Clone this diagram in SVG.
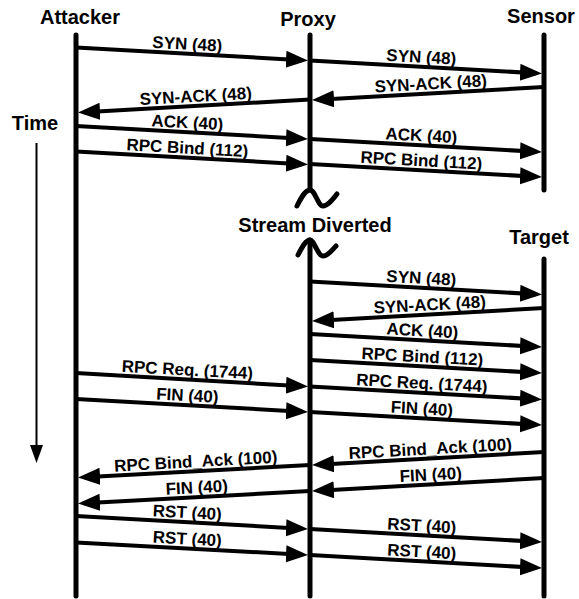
<svg xmlns="http://www.w3.org/2000/svg" width="579" height="599" viewBox="0 0 579 599">
<style>
.life{stroke:#000;stroke-width:5;stroke-linecap:round;fill:none}
.msg{stroke:#000;stroke-width:4;fill:none}
.title{font-family:"Liberation Sans",Arial,Helvetica,sans-serif;font-weight:bold;font-size:20px;fill:#000;text-anchor:middle}
.lbl{font-family:"Liberation Sans",Arial,Helvetica,sans-serif;font-weight:bold;font-size:17px;fill:#000;text-anchor:middle}
</style>
<defs>
<marker id="ah" markerUnits="userSpaceOnUse" markerWidth="24" markerHeight="18" refX="16" refY="8.5" orient="auto">
<path d="M0,0 L22,8.5 L0,17 z" fill="#000"/>
</marker>
</defs>
<rect width="579" height="599" fill="#fff"/>
<g id="attacker">
<text class="title" x="80" y="24">Attacker</text>
<line class="life" x1="76" y1="35" x2="76" y2="596"/>
</g>
<g id="proxy">
<text class="title" x="308" y="26">Proxy</text>
<line class="life" x1="310" y1="35" x2="310" y2="190"/>
<path class="life" d="M297,206 C301,198 305,190 310,190 C315,190 318,206 323,206 C328,206 333,199 337,194"/>
<path class="life" d="M298,255 C302,247 306,240 310,240 C314,240 318,256 323,256 C328,256 332,250 336,246"/>
<line class="life" x1="310" y1="240" x2="310" y2="596"/>
</g>
<g id="sensor">
<text class="title" x="541" y="23">Sensor</text>
<line class="life" x1="544" y1="35" x2="544" y2="190"/>
</g>
<g id="diverted">
<text class="title" x="315" y="232">Stream Diverted</text>
</g>
<g id="target">
<text class="title" x="539" y="244">Target</text>
<line class="life" x1="544" y1="259" x2="544" y2="596"/>
</g>
<g id="time">
<text class="title" x="35" y="130">Time</text>
<line x1="36.5" y1="143" x2="36.5" y2="447" stroke="#000" stroke-width="2"/>
<polygon points="30,445 43,445 36.5,463" fill="#000"/>
</g>
<g id="connectors" marker-end="url(#ah)">
<path class="msg" marker-end="url(#ah)" d="M76 47.5 L302 60.2"/>
<path class="msg" marker-end="url(#ah)" d="M310 99.5 L84 112.2"/>
<path class="msg" marker-end="url(#ah)" d="M76 126 L302 138.7"/>
<path class="msg" marker-end="url(#ah)" d="M76 151.5 L302 164.2"/>
<path class="msg" marker-end="url(#ah)" d="M310 60.5 L536 73.2"/>
<path class="msg" marker-end="url(#ah)" d="M544 87 L318 99.7"/>
<path class="msg" marker-end="url(#ah)" d="M310 139 L536 151.7"/>
<path class="msg" marker-end="url(#ah)" d="M310 164 L536 176.7"/>
<path class="msg" marker-end="url(#ah)" d="M310 281.5 L536 294.2"/>
<path class="msg" marker-end="url(#ah)" d="M544 308 L318 320.7"/>
<path class="msg" marker-end="url(#ah)" d="M310 334 L536 346.7"/>
<path class="msg" marker-end="url(#ah)" d="M310 360 L536 372.7"/>
<path class="msg" marker-end="url(#ah)" d="M310 386.5 L536 399.2"/>
<path class="msg" marker-end="url(#ah)" d="M310 412 L536 424.7"/>
<path class="msg" marker-end="url(#ah)" d="M544 452 L318 464.7"/>
<path class="msg" marker-end="url(#ah)" d="M544 478 L318 490.7"/>
<path class="msg" marker-end="url(#ah)" d="M310 529 L536 541.7"/>
<path class="msg" marker-end="url(#ah)" d="M310 555 L536 567.7"/>
<path class="msg" marker-end="url(#ah)" d="M76 373 L302 386.2"/>
<path class="msg" marker-end="url(#ah)" d="M76 399 L302 411.7"/>
<path class="msg" marker-end="url(#ah)" d="M310 465 L84 477.2"/>
<path class="msg" marker-end="url(#ah)" d="M310 491 L84 503.2"/>
<path class="msg" marker-end="url(#ah)" d="M76 516 L302 528.7"/>
<path class="msg" marker-end="url(#ah)" d="M76 542.5 L302 554.7"/>
</g>
<g id="labels">
<text class="lbl" transform="translate(187,49.7) rotate(3.2)">SYN (48)</text>
<text class="lbl" transform="translate(196,101.9) rotate(-3.2)">SYN-ACK (48)</text>
<text class="lbl" transform="translate(187,128.2) rotate(3.2)">ACK (40)</text>
<text class="lbl" transform="translate(187,153.7) rotate(3.2)">RPC Bind (112)</text>
<text class="lbl" transform="translate(421,62.7) rotate(3.2)">SYN (48)</text>
<text class="lbl" transform="translate(431,89.3) rotate(-3.2)">SYN-ACK (48)</text>
<text class="lbl" transform="translate(421,141.2) rotate(3.2)">ACK (40)</text>
<text class="lbl" transform="translate(421,166.2) rotate(3.2)">RPC Bind (112)</text>
<text class="lbl" transform="translate(421,283.7) rotate(3.2)">SYN (48)</text>
<text class="lbl" transform="translate(430,310.4) rotate(-3.2)">SYN-ACK (48)</text>
<text class="lbl" transform="translate(422,336.3) rotate(3.2)">ACK (40)</text>
<text class="lbl" transform="translate(422,362.3) rotate(3.2)">RPC Bind (112)</text>
<text class="lbl" transform="translate(421.5,388.8) rotate(3.2)">RPC Req. (1744)</text>
<text class="lbl" transform="translate(421.5,414.3) rotate(3.2)">FIN (40)</text>
<text class="lbl" transform="translate(430.5,454.4) rotate(-3.2)">RPC Bind_Ack (100)</text>
<text class="lbl" transform="translate(431,480.3) rotate(-3.2)">FIN (40)</text>
<text class="lbl" transform="translate(421.5,531.3) rotate(3.2)">RST (40)</text>
<text class="lbl" transform="translate(421.5,557.3) rotate(3.2)">RST (40)</text>
<text class="lbl" transform="translate(187,375.5) rotate(3.2)">RPC Req. (1744)</text>
<text class="lbl" transform="translate(187,401.2) rotate(3.2)">FIN (40)</text>
<text class="lbl" transform="translate(196,467.1) rotate(-3.2)">RPC Bind_Ack (100)</text>
<text class="lbl" transform="translate(197,493.1) rotate(-3.2)">FIN (40)</text>
<text class="lbl" transform="translate(187,518.2) rotate(3.2)">RST (40)</text>
<text class="lbl" transform="translate(187,544.5) rotate(3.2)">RST (40)</text>
</g>
</svg>
